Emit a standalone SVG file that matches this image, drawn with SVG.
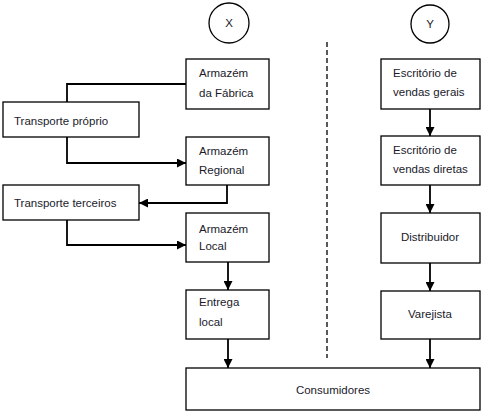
<svg xmlns="http://www.w3.org/2000/svg" width="486" height="417" viewBox="0 0 486 417">
<defs>
<marker id="ah" viewBox="0 0 10 10" refX="10" refY="5" markerWidth="5" markerHeight="5" orient="auto" markerUnits="strokeWidth">
<path d="M0,0 L10,5 L0,10 Z" fill="#000"/>
</marker>
<style>
.box{fill:#fff;stroke:#000;stroke-width:1.3}
.t{font-family:"Liberation Sans",Arial,sans-serif;font-size:11.5px;fill:#1a1a2a}
.c{text-anchor:middle}
.ln{fill:none;stroke:#000;stroke-width:1.8}
.ar{fill:none;stroke:#000;stroke-width:1.8;marker-end:url(#ah)}
</style>
</defs>
<rect width="486" height="417" fill="#fff"/>
<g id="connectors">
<line x1="327" y1="42" x2="327" y2="358" stroke="#000" stroke-width="1.3" stroke-dasharray="5,3"/>
<path class="ln" d="M186,84 H67 V102"/>
<path class="ar" d="M67,137 V163 H186"/>
<path class="ar" d="M227,185 V203 H139"/>
<path class="ar" d="M67,220 V245 H186"/>
<path class="ar" d="M228,262 V290"/>
<path class="ar" d="M228,339 V368"/>
<path class="ar" d="M430,109 V136"/>
<path class="ar" d="M430,185 V213"/>
<path class="ar" d="M430,263 V291"/>
<path class="ar" d="M430,339 V368"/>
</g>
<g id="X"><circle cx="229" cy="23" r="20" fill="#fff" stroke="#000" stroke-width="1.3"/><text class="t c" x="229" y="27">X</text></g>
<g id="Y"><circle cx="430" cy="24" r="19" fill="#fff" stroke="#000" stroke-width="1.3"/><text class="t c" x="430" y="28">Y</text></g>
<g id="armazem-fabrica"><rect class="box" x="186" y="59" width="83" height="50"/><text class="t" x="199" y="77">Armazém</text><text class="t" x="199" y="97">da Fábrica</text></g>
<g id="transporte-proprio"><rect class="box" x="3" y="102" width="136" height="35"/><text class="t" x="14" y="125">Transporte próprio</text></g>
<g id="armazem-regional"><rect class="box" x="186" y="137" width="83" height="48"/><text class="t" x="199" y="155">Armazém</text><text class="t" x="199" y="174">Regional</text></g>
<g id="transporte-terceiros"><rect class="box" x="3" y="185" width="136" height="35"/><text class="t" x="14" y="207">Transporte terceiros</text></g>
<g id="armazem-local"><rect class="box" x="186" y="213" width="83" height="49"/><text class="t" x="199" y="233">Armazém</text><text class="t" x="199" y="250">Local</text></g>
<g id="entrega-local"><rect class="box" x="186" y="290" width="83" height="49"/><text class="t" x="199" y="306">Entrega</text><text class="t" x="199" y="326">local</text></g>
<g id="escritorio-gerais"><rect class="box" x="381" y="59" width="99" height="50"/><text class="t" x="393" y="77">Escritório de</text><text class="t" x="393" y="96">vendas gerais</text></g>
<g id="escritorio-diretas"><rect class="box" x="381" y="136" width="99" height="49"/><text class="t" x="393" y="154">Escritório de</text><text class="t" x="393" y="173">vendas diretas</text></g>
<g id="distribuidor"><rect class="box" x="381" y="213" width="99" height="50"/><text class="t c" x="430" y="241">Distribuidor</text></g>
<g id="varejista"><rect class="box" x="381" y="291" width="99" height="48"/><text class="t c" x="430" y="318">Varejista</text></g>
<g id="consumidores"><rect class="box" x="186" y="368" width="294" height="42"/><text class="t c" x="333" y="394">Consumidores</text></g>
</svg>
